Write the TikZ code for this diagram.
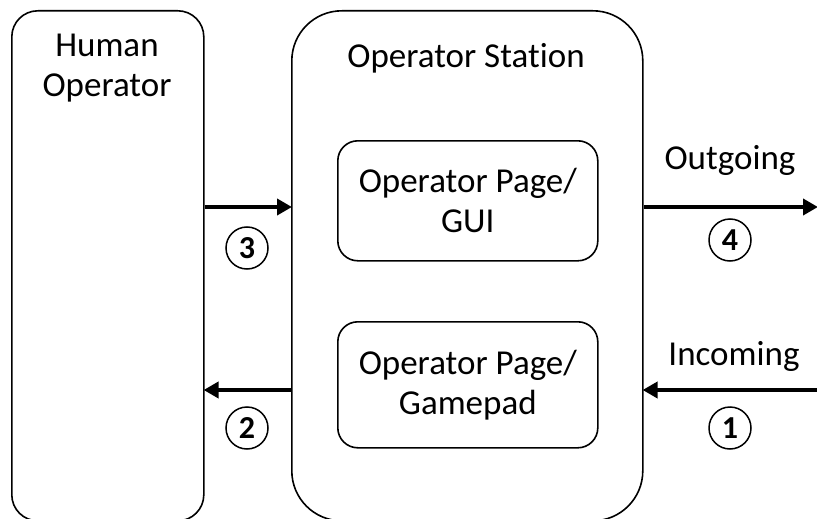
\documentclass[tikz,border=0pt]{standalone}
\usepackage{fontspec}
\setmainfont[Ligatures=NoCommon]{Carlito}
\usetikzlibrary{arrows.meta}
\begin{document}
\begin{tikzpicture}[x=1pt,y=-1pt,
  box/.style={draw, line width=1.6pt, inner sep=0pt},
  lbl/.style={font=\fontsize{35}{40}\selectfont, align=center, inner sep=0pt},
  num/.style={draw, circle, line width=1.5pt, minimum size=42pt, inner sep=0pt, font=\fontsize{32}{32}\selectfont\bfseries},
  flow/.style={line width=4pt, -{Triangle[length=15pt,width=16pt]}, shorten >=-1pt}]
\useasboundingbox (0,0) rectangle (817,519);
\node[box, rounded corners=26pt, minimum width=192pt, minimum height=510pt, anchor=north west] (human) at (11,10) {};
\node[box, rounded corners=50pt, minimum width=351pt, minimum height=510pt, anchor=north west] (station) at (291,10) {};
\node[box, rounded corners=20pt, minimum width=260pt, minimum height=120pt, anchor=north west, lbl] (gui) at (337,140) {Operator Page/\\GUI};
\node[box, rounded corners=20pt, minimum width=260pt, minimum height=126pt, anchor=north west, lbl] (pad) at (337,321) {Operator Page/\\Gamepad};
\node[lbl] (thuman) at (107,68) {Human\\Operator};
\node[lbl] (tstation) at (466,58) {Operator Station};
\coordinate (yout) at (0,207);
\coordinate (yin) at (0,390);
\coordinate (outend) at (817,207);
\coordinate (inend) at (817,390);
\draw[flow] (human.east |- yout) -- (station.west |- yout);
\draw[flow] (station.west |- yin) -- (human.east |- yin);
\draw[flow] (station.east |- yout) -- (outend);
\draw[flow] (inend) -- (station.east |- yin);
\node[lbl] (tout) at (730,160) {Outgoing};
\node[lbl] (tin) at (734,356) {Incoming};
\node[num] (n3) at (247,248) {3};
\node[num] (n2) at (247,428) {2};
\node[num] (n4) at (730,240) {4};
\node[num] (n1) at (730,428) {1};
\end{tikzpicture}
\end{document}
